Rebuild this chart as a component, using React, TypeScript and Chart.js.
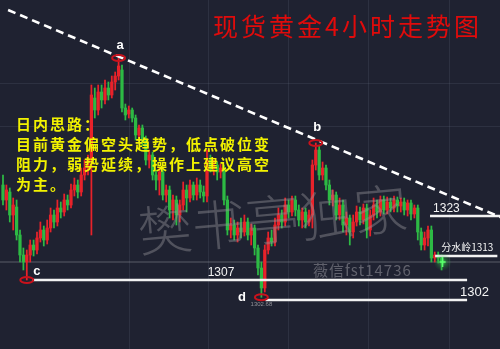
import React, { useEffect, useRef } from 'react';
import { Chart, registerables } from 'chart.js';

Chart.register(...registerables);

// Spot gold, 4-hour candles, oldest first
const opens = [
  1330.75, 1327, 1329, 1323.25, 1325.25, 1318.25, 1313.25, 1311.5, 1313.25, 1315.75,
  1314.5, 1317.5, 1319.5, 1317, 1320, 1323.25, 1321.5, 1325, 1324, 1327,
  1325.75, 1329.5, 1330.75, 1329, 1333.25, 1335, 1337, 1352.5, 1349.5, 1354,
  1352, 1355, 1353.25, 1356.5, 1358, 1359.5, 1350, 1348.5, 1349.5, 1347.5,
  1343.25, 1345, 1342, 1337, 1338.25, 1333.25, 1332, 1334, 1328.25, 1329.5,
  1324.5, 1327, 1323.25, 1325.75, 1329.5, 1327.5, 1330.75, 1328.25, 1330.75, 1329,
  1328, 1337, 1335, 1335.75, 1334, 1335, 1327, 1319.5, 1320.75, 1318.25,
  1320, 1319, 1321.5, 1318.25, 1320, 1315, 1310, 1305, 1314.5, 1317.5,
  1316.5, 1320.75, 1323.25, 1321.5, 1325.75, 1324, 1327, 1324.5, 1322, 1324,
  1321.5, 1323.25, 1335.75, 1339.5, 1333.25, 1335, 1330.75, 1327, 1328.25, 1323.25,
  1325.75, 1320.75, 1322.5, 1319, 1321.5, 1324, 1322, 1325, 1319.5, 1323.25,
  1325.75, 1324, 1327, 1324.5, 1326.5, 1325, 1327, 1325.5, 1326.5, 1324.5,
  1326.25, 1323.5, 1325, 1319, 1315.75, 1317.5, 1319.5, 1312.5, 1313.25, 1312.5,
];
const highs = [
  1333.25, 1330.75, 1330, 1327.5, 1327, 1319.5, 1315, 1314.5, 1317, 1317,
  1319, 1321.5, 1320.5, 1322, 1325, 1324.5, 1327, 1326.5, 1328.5, 1328.25,
  1331, 1332.5, 1332, 1335, 1337, 1338.25, 1355.75, 1355, 1355.75, 1355.75,
  1357, 1356.5, 1358, 1359, 1362.5, 1360.75, 1351, 1350.5, 1350, 1348.25,
  1345.75, 1345.75, 1343, 1339.5, 1339, 1334.5, 1335, 1334.5, 1330.75, 1330.5,
  1328.25, 1328, 1327, 1331.5, 1330.75, 1332, 1331.5, 1332.5, 1332, 1330.5,
  1339.5, 1338.25, 1337, 1336.5, 1336, 1335.75, 1328, 1322.5, 1322, 1321.5,
  1322.5, 1323.25, 1322.5, 1321, 1320.75, 1315.75, 1311.5, 1315.75, 1319, 1319.5,
  1322.5, 1325, 1324.5, 1327.5, 1327, 1328, 1328, 1325.75, 1325, 1325,
  1324.5, 1337, 1341.25, 1340.5, 1336.5, 1335.75, 1332, 1329.5, 1329, 1327.5,
  1327, 1324, 1323.25, 1323.25, 1325.5, 1325.25, 1326, 1326, 1324.5, 1327.5,
  1327, 1328, 1328, 1327.75, 1327.5, 1328, 1327.75, 1327.5, 1327.5, 1327,
  1327, 1325.75, 1325.75, 1320, 1319, 1320.5, 1320.5, 1314, 1314, 1313.25,
];
const lows = [
  1325.75, 1324.5, 1321.5, 1319.5, 1317, 1311.5, 1309.5, 1307, 1311.5, 1313,
  1313.5, 1316.5, 1315.5, 1316, 1319, 1320, 1320.5, 1322.5, 1323, 1324.5,
  1325, 1328, 1327.5, 1328, 1332, 1333.25, 1318.25, 1347.5, 1348.25, 1350,
  1351, 1352, 1352.5, 1354.5, 1357, 1349, 1347, 1347.5, 1346.5, 1342,
  1342, 1340.5, 1335.75, 1335, 1332, 1329.5, 1328.25, 1327, 1326.5, 1322.5,
  1322, 1320.75, 1321.5, 1324.5, 1324, 1326.5, 1327, 1327, 1327.5, 1326.5,
  1326.5, 1334, 1333.25, 1332, 1332.5, 1325.75, 1318.25, 1317.5, 1317, 1316.5,
  1317.5, 1318, 1317, 1315.75, 1313.25, 1308.25, 1302.68, 1304, 1313.5, 1315.5,
  1315.5, 1319.5, 1320, 1320.5, 1322.5, 1323, 1323, 1320.5, 1320, 1320,
  1320.5, 1320, 1334.5, 1332, 1332, 1329.5, 1325.75, 1325.5, 1322, 1322,
  1319, 1318.25, 1315.75, 1317.5, 1320.5, 1320.75, 1321, 1317.5, 1318, 1322,
  1322.5, 1323, 1323.5, 1323.5, 1324, 1324, 1324, 1324, 1323.25, 1323,
  1322, 1322.5, 1317, 1314.5, 1314.5, 1315.5, 1311.5, 1311.5, 1311.25, 1309.5,
];
const closes = [
  1327, 1329.5, 1323.25, 1325.75, 1318.25, 1313.25, 1311.5, 1313.25, 1315.75, 1314.5,
  1317.5, 1319.5, 1317, 1320, 1323.25, 1321.5, 1325, 1324, 1327, 1325.75,
  1329.5, 1330.75, 1329, 1333.25, 1335, 1337, 1353.25, 1349.5, 1354, 1352,
  1355, 1353.25, 1356.5, 1358, 1360.5, 1350, 1348.25, 1349.5, 1347.5, 1343.25,
  1345, 1342, 1337, 1338.25, 1333.25, 1332, 1334, 1328.25, 1329.5, 1324.5,
  1327, 1323.25, 1325.75, 1329.5, 1327.5, 1330.75, 1328.25, 1330.75, 1329, 1328,
  1337, 1335, 1335.75, 1334, 1335, 1327, 1319.5, 1320.75, 1318.25, 1320,
  1319, 1321.5, 1318.25, 1320, 1315, 1310, 1305, 1314.5, 1317.5, 1316.5,
  1320.75, 1323.25, 1321.5, 1325.75, 1324, 1327, 1324.5, 1322, 1324, 1321.5,
  1323.25, 1335.75, 1339.5, 1333.25, 1335, 1330.75, 1327, 1328.25, 1323.25, 1325.75,
  1320.75, 1322.5, 1319, 1321.5, 1324, 1322, 1325, 1319.5, 1323.25, 1325.75,
  1324, 1327, 1324.5, 1326.5, 1325, 1327, 1325.5, 1326.5, 1324.5, 1326.25,
  1323.5, 1325, 1319, 1315.75, 1317.5, 1319.5, 1312.5, 1313.25, 1312.5, 1311.5,
];

// Swing points a, b, c, d
const swingNames = ['a', 'b', 'c', 'd'];
const swingIndex = [34, 92, 7, 76];
const swingSide = ['high', 'high', 'low', 'low'];

// Descending resistance line (bar index, price)
const trendX = [1.5, 146.2];
const trendY = [1374.5, 1322.75];

// Horizontal support / resistance levels
const levelValues = [1323, 1313, 1307, 1302];
const levelLabels = ['1323', '分水岭1313', '1307', '1302'];
const levelFrom = [125.6, 127.1, 8.6, 77.2];
const levelTo = [146.2, 145.4, 136.5, 136.5];

const titleText = '现货黄金4小时走势图';
const noteLines = [
  '日内思路：',
  '目前黄金偏空头趋势，低点破位变',
  '阻力，弱势延续，操作上建议高空',
  '为主。',
];
const watermarkText = '樊书亭独家';
const contactText = '薇信fst14736';

const UP = '#e8222a';
const DOWN = '#2dba44';
const BG = '#1f2231';
const CJK = '"Noto Sans CJK SC", sans-serif';
const LATIN = '"Liberation Sans", Arial, sans-serif';

export default function App() {
  const ref = useRef<HTMLCanvasElement>(null);

  useEffect(() => {
    const canvas = ref.current;
    if (!canvas) return;

    const idx = opens.map((_, i) => i);
    const colors = idx.map((i) => (closes[i] >= opens[i] ? UP : DOWN));
    const wicks = idx.map((i) => ({ x: i, y: [lows[i], highs[i]] }));
    const bodies = idx.map((i) => ({ x: i, y: [opens[i], closes[i]] }));
    const last = idx.length - 1;

    const levelSets = levelValues.map((v, k) => ({
      type: 'line' as const,
      data: [
        { x: levelFrom[k], y: v },
        { x: levelTo[k], y: v },
      ],
      borderColor: '#f2f2f2',
      borderWidth: 2.6,
      pointRadius: 0,
      order: 1,
    }));

    const backdrop = {
      id: 'backdrop',
      beforeDraw(chart: any) {
        const { ctx, width, height } = chart;
        ctx.save();
        ctx.fillStyle = BG;
        ctx.fillRect(0, 0, width, height);
        ctx.strokeStyle = 'rgba(120,130,150,0.16)';
        ctx.lineWidth = 1;
        [129, 208, 288, 368, 449].forEach((px) => {
          ctx.beginPath();
          ctx.moveTo(px + 0.5, 0);
          ctx.lineTo(px + 0.5, height);
          ctx.stroke();
        });
        [83, 126].forEach((py) => {
          ctx.beginPath();
          ctx.moveTo(0, py + 0.5);
          ctx.lineTo(width, py + 0.5);
          ctx.stroke();
        });
        ctx.restore();
      },
    };

    const overlay = {
      id: 'overlay',
      afterDatasetsDraw(chart: any) {
        const { ctx } = chart;
        const xs = chart.scales.x;
        const ys = chart.scales.y;
        ctx.save();

        // watermark
        ctx.save();
        ctx.translate(140, 252);
        ctx.rotate(-0.09);
        ctx.font = `300 54px ${CJK}`;
        ctx.fillStyle = 'rgba(150,150,155,0.42)';
        ctx.textBaseline = 'alphabetic';
        ctx.fillText(watermarkText, 0, 0);
        ctx.restore();

        ctx.font = `15px ${CJK}`;
        ctx.fillStyle = 'rgba(140,140,148,0.6)';
        ctx.textBaseline = 'middle';
        (ctx as any).letterSpacing = '1px';
        ctx.fillText(contactText, 313, 270);
        (ctx as any).letterSpacing = '0px';

        // swing markers
        swingNames.forEach((name, k) => {
          const i = swingIndex[k];
          const isHigh = swingSide[k] === 'high';
          const px = xs.getPixelForValue(i);
          const py = ys.getPixelForValue(isHigh ? highs[i] : lows[i]);
          ctx.beginPath();
          ctx.ellipse(px, py, 6.5, 3, 0, 0, Math.PI * 2);
          ctx.strokeStyle = '#c9121c';
          ctx.lineWidth = 2;
          ctx.stroke();
          ctx.fillStyle = '#ffffff';
          ctx.font = `bold 13px ${LATIN}`;
          ctx.textAlign = 'center';
          ctx.textBaseline = 'middle';
          let lx = px + 1.5;
          let ly = py - 13;
          if (name === 'b') ly = py - 15.5;
          if (name === 'c') { lx = px + 10; ly = py - 8.5; }
          if (name === 'd') { lx = px - 19.5; ly = py; }
          ctx.fillText(name, lx, ly);
          if (name === 'd') {
            ctx.font = `6px ${LATIN}`;
            ctx.fillStyle = 'rgba(170,170,175,0.8)';
            ctx.fillText(lows[i].toFixed(2), px, py + 7);
          }
        });

        // level labels
        ctx.fillStyle = '#f4f4f4';
        ctx.textBaseline = 'middle';
        levelValues.forEach((v, k) => {
          const y = ys.getPixelForValue(v);
          const x0 = xs.getPixelForValue(levelFrom[k]);
          const x1 = xs.getPixelForValue(levelTo[k]);
          const label = levelLabels[k];
          if (k === 0) {
            ctx.font = `12px ${LATIN}`;
            ctx.textAlign = 'left';
            ctx.fillText(label, x0 + 3, y - 7);
          } else if (k === 1) {
            ctx.font = `10px ${CJK}`;
            ctx.textAlign = 'right';
            ctx.fillText(label, x1 - 4, y - 9);
          } else if (k === 2) {
            ctx.font = `12px ${LATIN}`;
            ctx.textAlign = 'center';
            ctx.fillText(label, 221, y - 7);
          } else {
            ctx.font = `13px ${LATIN}`;
            ctx.textAlign = 'left';
            ctx.fillText(label, x1 - 7, y - 8);
          }
        });

        // glowing last price
        const gx = xs.getPixelForValue(last) + 1;
        const gy = ys.getPixelForValue(closes[last]);
        const grad = ctx.createRadialGradient(gx, gy, 0, gx, gy, 9);
        grad.addColorStop(0, 'rgba(70,230,90,0.85)');
        grad.addColorStop(0.45, 'rgba(50,190,70,0.35)');
        grad.addColorStop(1, 'rgba(40,160,60,0)');
        ctx.fillStyle = grad;
        ctx.beginPath();
        ctx.arc(gx, gy, 9, 0, Math.PI * 2);
        ctx.fill();
        ctx.strokeStyle = '#5cff6e';
        ctx.lineWidth = 1.5;
        ctx.beginPath();
        ctx.moveTo(gx - 3, gy);
        ctx.lineTo(gx + 3, gy);
        ctx.moveTo(gx, gy - 5);
        ctx.lineTo(gx, gy + 5);
        ctx.stroke();

        // title
        ctx.textAlign = 'left';
        ctx.textBaseline = 'middle';
        ctx.font = `25px ${CJK}`;
        ctx.fillStyle = '#e00b0b';
        (ctx as any).letterSpacing = '3px';
        ctx.fillText(titleText, 213, 26);

        // commentary
        ctx.font = `bold 15px ${CJK}`;
        ctx.fillStyle = '#f2f200';
        (ctx as any).letterSpacing = '2px';
        noteLines.forEach((line, k) => ctx.fillText(line, 16, 124 + k * 20));
        (ctx as any).letterSpacing = '0px';

        ctx.restore();
      },
    };

    const chart = new Chart(canvas, {
      type: 'bar',
      data: {
        datasets: [
          {
            type: 'line',
            data: trendX.map((x, k) => ({ x, y: trendY[k] })),
            borderColor: '#ffffff',
            borderWidth: 2.6,
            borderDash: [8, 5],
            pointRadius: 0,
            order: 0,
          },
          ...levelSets,
          {
            type: 'line',
            data: [
              { x: -1, y: closes[last] },
              { x: 147, y: closes[last] },
            ],
            borderColor: 'rgba(140,142,150,0.55)',
            borderWidth: 1,
            pointRadius: 0,
            order: 6,
          },
          {
            type: 'bar',
            data: wicks as any,
            backgroundColor: colors,
            barThickness: 1.1,
            grouped: false,
            order: 5,
          },
          {
            type: 'bar',
            data: bodies as any,
            backgroundColor: colors,
            barThickness: 2.6,
            grouped: false,
            order: 4,
          },
        ] as any,
      },
      options: {
        animation: false,
        responsive: false,
        events: [],
        layout: { padding: 0 },
        plugins: { legend: { display: false }, tooltip: { enabled: false } },
        scales: {
          x: { type: 'linear', min: -0.88, max: 146.18, offset: false, display: false },
          y: { type: 'linear', min: 1289.75, max: 1377, display: false },
        },
      },
      plugins: [backdrop, overlay],
    });

    return () => chart.destroy();
  }, []);

  return (
    <div style={{ position: 'fixed', left: 0, top: 0, width: 500, height: 349, background: BG }}>
      <canvas ref={ref} width={500} height={349} style={{ display: 'block' }} />
    </div>
  );
}
